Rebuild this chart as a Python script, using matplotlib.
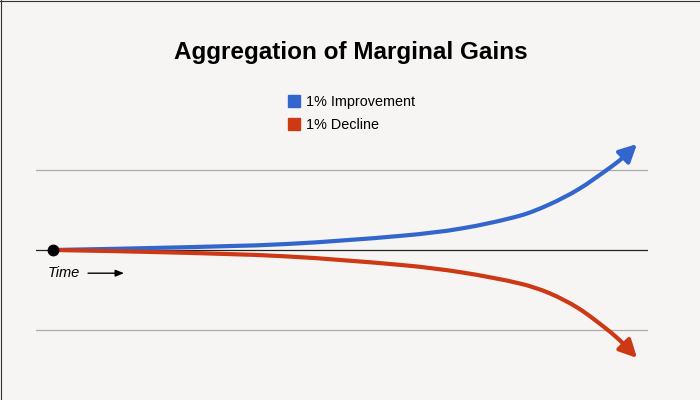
import matplotlib
matplotlib.use("Agg")
import matplotlib.pyplot as plt
from matplotlib.lines import Line2D
from matplotlib.path import Path
from matplotlib.patches import FancyArrowPatch

plt.rcParams['font.family'] = ['Liberation Sans', 'DejaVu Sans']

title = "Aggregation of Marginal Gains"
series_names = ["1% Improvement", "1% Decline"]
colors = ["#3366cc", "#cc3914"]

time = [0, 2, 4, 6, 7, 8, 8.5, 9, 9.5, 9.75, 10]
improvement = [0, 0.03, 0.075, 0.18, 0.27, 0.43, 0.57, 0.76, 1.01, 1.15, 1.325]
decline = [0, -0.03, -0.08, -0.19, -0.28, -0.42, -0.54, -0.73, -1.0, -1.16, -1.35]
gridlines = [-1, 1]


def smooth_path(xs, ys):
    # monotone-x cubic Hermite rendered as Bezier segments
    n = len(xs)
    slopes = []
    for i in range(n):
        if i == 0:
            m = (ys[1] - ys[0]) / (xs[1] - xs[0])
        elif i == n - 1:
            m = (ys[-1] - ys[-2]) / (xs[-1] - xs[-2])
        else:
            m = (ys[i + 1] - ys[i - 1]) / (xs[i + 1] - xs[i - 1])
        slopes.append(m)
    verts = [(xs[0], ys[0])]
    codes = [Path.MOVETO]
    for i in range(n - 1):
        h = xs[i + 1] - xs[i]
        c1 = (xs[i] + h / 3, ys[i] + slopes[i] * h / 3)
        c2 = (xs[i + 1] - h / 3, ys[i + 1] - slopes[i + 1] * h / 3)
        verts += [c1, c2, (xs[i + 1], ys[i + 1])]
        codes += [Path.CURVE4] * 3
    return Path(verts, codes)


bg = "#f6f5f4"
fig = plt.figure(figsize=(7, 4), dpi=100, facecolor=bg)
ax = fig.add_axes([36/700, 30/400, 612/700, 240/400])
ax.set_facecolor("none")
ax.set_xlim(-0.291, 10.188)
ax.set_ylim(-1.5, 1.5)
for s in ax.spines.values():
    s.set_visible(False)
ax.set_xticks([])
ax.set_yticks([])

for g in gridlines:
    ax.axhline(g, color="#aaaaaa", lw=0.9, zorder=1)
ax.axhline(0, color="#222222", lw=0.9, zorder=1)

for vals, c in zip([improvement, decline], colors):
    arrow = FancyArrowPatch(path=smooth_path(time, vals),
                            arrowstyle="-|>,head_length=0.75,head_width=0.38",
                            mutation_scale=14, color=c, lw=3,
                            transform=ax.transData, zorder=3, clip_on=False)
    ax.add_patch(arrow)

ax.plot([time[0]], [improvement[0]], "o", color="black", ms=7.5, zorder=5)

ax.text(-0.086, -0.2875, "Time", style="italic", fontsize=10.5, va="center", ha="left")
ax.annotate("", xy=(1.216, -0.29), xytext=(0.6, -0.29),
            arrowprops=dict(arrowstyle="-|>,head_length=0.5,head_width=0.2",
                            color="black", lw=1, shrinkA=0, shrinkB=0, mutation_scale=10))

fig.text(351/700, 1 - 53/400, title, fontsize=17.5, fontweight="bold",
         ha="center", va="center")

handles = [Line2D([], [], marker="s", linestyle="none", markersize=8,
                  color=c) for c in colors]
fig.legend(handles, series_names, loc="upper left",
           bbox_to_anchor=(287/700, 1 - 95/400), frameon=False, fontsize=10.4,
           handlelength=0.9, handletextpad=0.4, labelspacing=0.6,
           borderpad=0, borderaxespad=0)

fig.add_artist(Line2D([0, 1], [1 - 0.5/400, 1 - 0.5/400], color="#333333", lw=0.8))
fig.add_artist(Line2D([0.5/700, 0.5/700], [0, 1], color="#333333", lw=0.8))

fig.savefig("out.png", dpi=100, facecolor=bg)
